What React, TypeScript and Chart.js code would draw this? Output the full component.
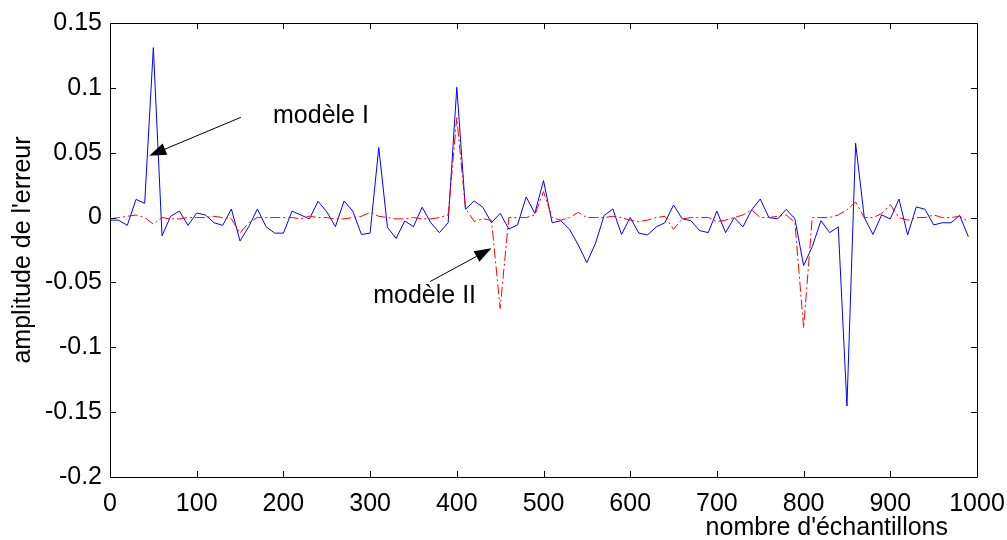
import React, { useEffect, useRef } from "react";
import { Chart, registerables } from "chart.js";

Chart.register(...registerables);

const SAMPLES = [
  0, 10, 20, 30, 40, 50, 60, 70, 80, 90,
  100, 110, 120, 130, 140, 150, 160, 170, 180, 190,
  200, 210, 220, 230, 240, 250, 260, 270, 280, 290,
  300, 310, 320, 330, 340, 350, 360, 370, 380, 390,
  400, 410, 420, 430, 440, 450, 460, 470, 480, 490,
  500, 510, 520, 530, 540, 550, 560, 570, 580, 590,
  600, 610, 620, 630, 640, 650, 660, 670, 680, 690,
  700, 710, 720, 730, 740, 750, 760, 770, 780, 790,
  800, 810, 820, 830, 840, 850, 860, 870, 880, 890,
  900, 910, 920, 930, 940, 950, 960, 970, 980, 990,
];

const MODEL_I = [
  -0.002, -0.002, -0.006, 0.014, 0.011, 0.131, -0.014, 0.001, 0.005, -0.006,
  0.0035, 0.002, -0.004, -0.006, 0.0066, -0.018, -0.007, 0.0066, -0.007, -0.012,
  -0.012, 0.005, 0.002, -0.001, 0.0125, 0.0045, -0.007, 0.0128, 0.005, -0.013,
  -0.012, 0.054, -0.0075, -0.016, -0.0026, -0.007, 0.008, -0.004, -0.0116, -0.004,
  0.1004, 0.0064, 0.0128, 0.008, -0.004, 0.0033, -0.0088, -0.0057, 0.0159, 0.0033,
  0.0285, -0.004, -0.0024, -0.009, -0.021, -0.0347, -0.0198, 0.0017, 0.0066, -0.013,
  0.0, -0.012, -0.0134, -0.0072, -0.004, 0.0097, -0.001, -0.0024, -0.01, -0.0116,
  0.005, -0.0116, 0.0, -0.0072, 0.0059, 0.0143, 0.0, -0.001, 0.0064, -0.001,
  -0.037, -0.0224, -0.0024, -0.0116, -0.0072, -0.1453, 0.0573, 0.0, -0.013, 0.002,
  -0.001, 0.0143, -0.0134, 0.0082, 0.0064, -0.0057, -0.004, -0.004, 0.0017, -0.0147,
];

const MODEL_II = [
  -0.001, 0.0, 0.001, 0.002, 0.0, -0.005, 0.0, -0.001, -0.001, 0.0,
  0.0, 0.0, 0.001, 0.0, -0.001, -0.012, -0.004, 0.0, 0.0, 0.0,
  0.0, 0.0, -0.001, 0.001, 0.0, 0.0, -0.001, -0.001, 0.0, 0.001,
  0.004, 0.001, 0.0, -0.001, -0.001, 0.0, -0.001, -0.001, 0.0, 0.002,
  0.077, 0.007, -0.003, -0.001, -0.002, -0.07, 0.0, 0.0, 0.0, 0.002,
  0.02, 0.0, -0.002, 0.0, 0.004, 0.0, 0.0, 0.0, 0.001, 0.0,
  -0.002, -0.003, -0.002, 0.0, 0.001, -0.009, -0.001, 0.0, 0.0, 0.0,
  -0.003, -0.002, 0.0, 0.002, 0.006, 0.0, 0.0, 0.001, 0.002, -0.004,
  -0.085, 0.0, 0.0, 0.0, 0.002, 0.006, 0.012, 0.0, 0.0, 0.003,
  0.01, 0.0, -0.002, 0.0, 0.0, 0.002, 0.0, 0.0, 0.001, -0.003,
];

const X_TICKS = [0, 100, 200, 300, 400, 500, 600, 700, 800, 900, 1000];
const X_TICK_LABELS = ["0", "100", "200", "300", "400", "500", "600", "700", "800", "900", "1000"];
const Y_TICKS = [-0.2, -0.15, -0.1, -0.05, 0, 0.05, 0.1, 0.15];
const Y_TICK_LABELS = ["-0.2", "-0.15", "-0.1", "-0.05", "0", "0.05", "0.1", "0.15"];

const X_TITLE = "nombre d'échantillons";
const Y_TITLE = "amplitude de l'erreur";

const ANNOTATION_LABELS = ["modèle I", "modèle II"];
const ANNOTATION_TEXT_AT = [
  [188, 0.0728],
  [303.6, -0.0661],
];
const ANNOTATION_ARROW_FROM = [
  [151, 0.0773],
  [369, -0.0494],
];
const ANNOTATION_ARROW_TO = [
  [45.3, 0.0477],
  [440, -0.0237],
];

const FONT = '"Liberation Sans", Arial, Helvetica, sans-serif';

const matlabAxes = {
  id: "matlabAxes",
  afterDraw(chart: any) {
    const { ctx, chartArea, scales } = chart;
    const { left, right, top, bottom } = chartArea;
    const xs = scales.x;
    const ys = scales.y;
    ctx.save();
    ctx.strokeStyle = "#000";
    ctx.lineWidth = 1;
    ctx.beginPath();
    ctx.rect(Math.round(left) + 0.5, Math.round(top) + 0.5, Math.round(right - left), Math.round(bottom - top));
    ctx.stroke();
    const tl = 6;
    ctx.beginPath();
    X_TICKS.forEach((v) => {
      const px = Math.round(xs.getPixelForValue(v)) + 0.5;
      ctx.moveTo(px, bottom);
      ctx.lineTo(px, bottom - tl);
      ctx.moveTo(px, top);
      ctx.lineTo(px, top + tl);
    });
    Y_TICKS.forEach((v) => {
      const py = Math.round(ys.getPixelForValue(v)) + 0.5;
      ctx.moveTo(left, py);
      ctx.lineTo(left + tl, py);
      ctx.moveTo(right, py);
      ctx.lineTo(right - tl, py);
    });
    ctx.stroke();

    // axis titles
    ctx.fillStyle = "#000";
    ctx.font = `25px ${FONT}`;
    ctx.textAlign = "right";
    ctx.textBaseline = "alphabetic";
    ctx.fillText(X_TITLE, right - 29, 535);
    ctx.save();
    ctx.translate(30, (top + bottom) / 2);
    ctx.rotate(-Math.PI / 2);
    ctx.textAlign = "center";
    ctx.fillText(Y_TITLE, 0, 0);
    ctx.restore();

    // annotations
    ctx.font = `25px ${FONT}`;
    ctx.textAlign = "left";
    ANNOTATION_LABELS.forEach((label, i) => {
      const tx = xs.getPixelForValue(ANNOTATION_TEXT_AT[i][0]);
      const ty = ys.getPixelForValue(ANNOTATION_TEXT_AT[i][1]);
      ctx.fillText(label, tx, ty);
      const x0 = xs.getPixelForValue(ANNOTATION_ARROW_FROM[i][0]);
      const y0 = ys.getPixelForValue(ANNOTATION_ARROW_FROM[i][1]);
      const x1 = xs.getPixelForValue(ANNOTATION_ARROW_TO[i][0]);
      const y1 = ys.getPixelForValue(ANNOTATION_ARROW_TO[i][1]);
      const ang = Math.atan2(y1 - y0, x1 - x0);
      const hl = 17;
      const hw = 6;
      const bx = x1 - hl * Math.cos(ang);
      const by = y1 - hl * Math.sin(ang);
      ctx.beginPath();
      ctx.moveTo(x0, y0);
      ctx.lineTo(bx, by);
      ctx.stroke();
      ctx.beginPath();
      ctx.moveTo(x1, y1);
      ctx.lineTo(bx + hw * Math.sin(ang), by - hw * Math.cos(ang));
      ctx.lineTo(bx - hw * Math.sin(ang), by + hw * Math.cos(ang));
      ctx.closePath();
      ctx.fill();
    });
    ctx.restore();
  },
};

export default function App() {
  const ref = useRef<HTMLCanvasElement | null>(null);
  useEffect(() => {
    if (!ref.current) return;
    const chart = new Chart(ref.current, {
      type: "line",
      data: {
        datasets: [
          {
            label: "modèle II",
            data: SAMPLES.map((s, i) => ({ x: s, y: MODEL_II[i] })),
            borderColor: "#ff0000",
            borderWidth: 1,
            borderDash: [10, 3, 2, 3],
            pointRadius: 0,
            tension: 0,
            fill: false,
            order: 0,
          },
          {
            label: "modèle I",
            data: SAMPLES.map((s, i) => ({ x: s, y: MODEL_I[i] })),
            borderColor: "#0000ff",
            borderWidth: 1,
            pointRadius: 0,
            tension: 0,
            fill: false,
            order: 1,
          },
        ],
      },
      options: {
        animation: false,
        responsive: false,
        devicePixelRatio: 1,
        layout: { padding: { left: 0, top: 23, right: 30, bottom: 0 } },
        plugins: {
          legend: { display: false },
          tooltip: { enabled: false },
        },
        scales: {
          x: {
            type: "linear",
            min: 0,
            max: 1000,
            afterBuildTicks: (scale: any) => {
              scale.ticks = X_TICKS.map((v) => ({ value: v }));
            },
            afterFit: (scale: any) => {
              scale.height = 63;
              scale.paddingLeft = 0;
              scale.paddingRight = 0;
            },
            grid: { display: false, drawTicks: false },
            border: { display: false },
            ticks: {
              color: "#000",
              font: { family: FONT, size: 25 },
              padding: 12,
              maxRotation: 0,
              autoSkip: false,
              callback: (_v: any, i: number) => X_TICK_LABELS[i],
            },
          },
          y: {
            type: "linear",
            min: -0.2,
            max: 0.15,
            afterBuildTicks: (scale: any) => {
              scale.ticks = Y_TICKS.map((v) => ({ value: v }));
            },
            afterFit: (scale: any) => {
              scale.width = 110;
              scale.paddingTop = 0;
              scale.paddingBottom = 0;
            },
            grid: { display: false, drawTicks: false },
            border: { display: false },
            ticks: {
              color: "#000",
              font: { family: FONT, size: 25 },
              padding: 8,
              autoSkip: false,
              callback: (_v: any, i: number) => Y_TICK_LABELS[i],
            },
          },
        },
      },
      plugins: [matlabAxes],
    });
    return () => chart.destroy();
  }, []);
  return (
    <div style={{ position: "fixed", left: 0, top: 0, width: 1007, height: 540, background: "#fff" }}>
      <canvas ref={ref} width={1007} height={540} style={{ display: "block" }} />
    </div>
  );
}
